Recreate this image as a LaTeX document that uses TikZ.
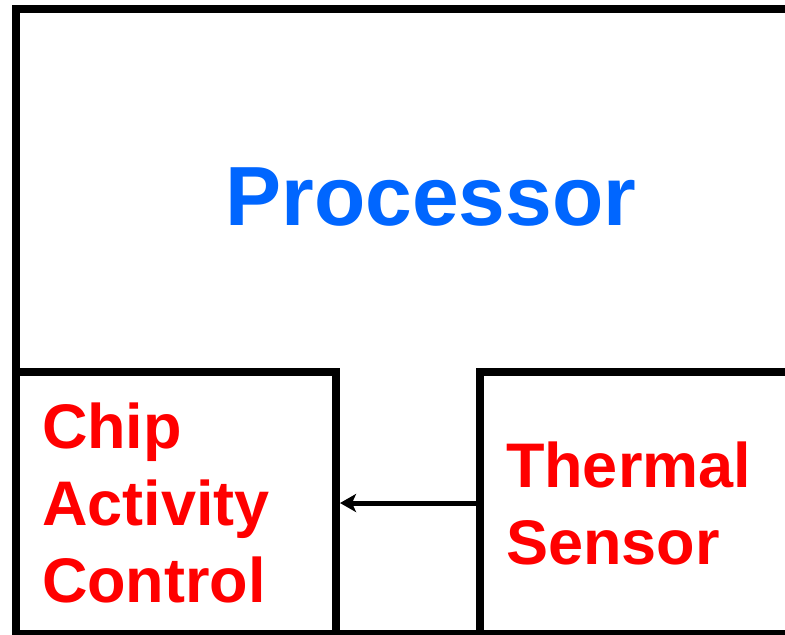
\documentclass[tikz,border=0pt]{standalone}
\usepackage{fontspec}
\setmainfont{Liberation Sans}
\usetikzlibrary{arrows.meta, positioning}
\definecolor{cBlue}{RGB}{0,102,255}
\definecolor{cRed}{RGB}{255,0,0}
\tikzset{
	chipbox/.style ={rectangle, draw=black, line width=4pt, fill=white},
	unit/.style    ={chipbox, minimum width=160pt, minimum height=131pt, text width=134pt, inner xsep=13pt, align=left, text=cRed, font=\fontsize{31.5}{38.5}\selectfont\bfseries},
	sig/.style     ={-{Stealth[length=8pt, width=9pt, inset=2pt]}, line width=2.5pt},
}
\begin{document}
\begin{tikzpicture}[x=0.5pt, y=-0.5pt]
	\useasboundingbox (0,0) rectangle (785,634);
	\clip (0,0) rectangle (785,634);
	\node[chipbox, minimum width=392pt, minimum height=312.5pt, inner sep=0pt] (proc) at (408,321.5) {};
	\node[text=cBlue, font=\fontsize{42}{50}\selectfont\bfseries, inner sep=0pt] (proclbl) at (431,197.5) {Processor};
	\node[unit] (ctrl) at (176,503) {Chip\\Activity\\Control};
	\node[unit] (sens) at (640,503) {Thermal\\Sensor};
	\draw[sig] (sens.west) -- (ctrl.east);
\end{tikzpicture}
\end{document}
